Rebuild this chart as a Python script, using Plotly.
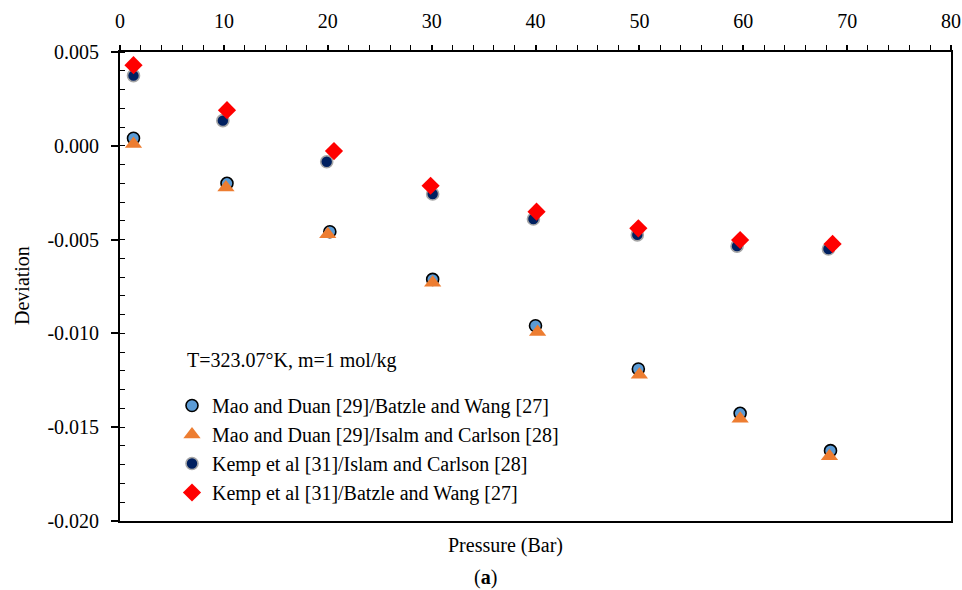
import plotly.graph_objects as go

# Data
p_md_bw = [1.3, 10.3, 20.2, 30.1, 40.0, 49.9, 59.7, 68.4]
d_md_bw = [0.0004, -0.0020, -0.00458, -0.00712, -0.00959, -0.0119, -0.01426, -0.01625]

p_md_ic = [1.3, 10.2, 20.0, 30.1, 40.2, 50.0, 59.7, 68.3]
d_md_ic = [0.0001, -0.00222, -0.00472, -0.00730, -0.00993, -0.01220, -0.01455, -0.01655]

p_kp_ic = [1.3, 9.9, 19.9, 30.1, 39.8, 49.8, 59.4, 68.2]
d_kp_ic = [0.00374, 0.00134, -0.00085, -0.00257, -0.0039, -0.00475, -0.00535, -0.00550]

p_kp_bw = [1.3, 10.3, 20.6, 29.9, 40.1, 49.9, 59.7, 68.6]
d_kp_bw = [0.0043, 0.0019, -0.00028, -0.00213, -0.00351, -0.0044, -0.00502, -0.00523]

names = [
    "Mao and Duan [29]/Batzle and Wang [27]",
    "Mao and Duan [29]/Isalm and Carlson [28]",
    "Kemp et al [31]/Islam and Carlson [28]",
    "Kemp et al [31]/Batzle and Wang [27]",
]

x_ticks = [0, 10, 20, 30, 40, 50, 60, 70, 80]
y_ticks = [0.005, 0.0, -0.005, -0.010, -0.015, -0.020]
y_tick_labels = ["0.005", "0.000", "-0.005", "-0.010", "-0.015", "-0.020"]

FONT = "Liberation Serif"
FS = 20
W, H = 962, 590
ML, MT = 120, 52
MR = W - 951
MB = H - 521
PW, PH = W - ML - MR, H - MT - MB


def px(xp):
    return (xp - ML) / PW


def py(yp):
    return 1 - (yp - MT) / PH


fig = go.Figure()
fig.add_trace(go.Scatter(x=p_md_bw, y=d_md_bw, mode="markers", name=names[0],
                         marker=dict(symbol="circle", size=12, color="#5B9BD5",
                                     line=dict(color="black", width=1.6))))
fig.add_trace(go.Scatter(x=p_md_ic, y=d_md_ic, mode="markers", name=names[1],
                         marker=dict(symbol="triangle-up", size=15, color="#ED7D31",
                                     line=dict(width=0))))
fig.add_trace(go.Scatter(x=p_kp_ic, y=d_kp_ic, mode="markers", name=names[2],
                         marker=dict(symbol="circle", size=12, color="#002060",
                                     line=dict(color="#A6A6A6", width=1.6))))
fig.add_trace(go.Scatter(x=p_kp_bw, y=d_kp_bw, mode="markers", name=names[3],
                         marker=dict(symbol="diamond", size=14, color="#FF0000",
                                     line=dict(width=0))))

fig.update_layout(
    width=W, height=H,
    margin=dict(l=ML, r=MR, t=MT, b=MB, autoexpand=False),
    paper_bgcolor="white", plot_bgcolor="white",
    font=dict(family=FONT, size=FS, color="black"),
    showlegend=True,
    legend=dict(x=px(172), y=py(386), xanchor="left", yanchor="top",
                bgcolor="rgba(0,0,0,0)", traceorder="normal",
                font=dict(family=FONT, size=20)),
    xaxis=dict(range=[0, 80], side="top", tickvals=x_ticks, ticks="outside", ticklen=5,
               tickwidth=1.5, tickcolor="black", showline=True, linecolor="black",
               linewidth=1.5, mirror=True, showgrid=False, zeroline=False,
               ticklabelstandoff=9, automargin=False,
               minor=dict(dtick=2, ticks="outside", ticklen=5, tickwidth=1, tickcolor="black")),
    yaxis=dict(range=[-0.020, 0.005], tickvals=y_ticks, ticktext=y_tick_labels,
               ticks="outside", ticklen=7, tickwidth=1.5, tickcolor="black",
               showline=True, linecolor="black", linewidth=1.8, mirror=True,
               showgrid=False, zeroline=False, ticklabelstandoff=8, automargin=False,
               minor=dict(dtick=0.001, ticks="inside", ticklen=5, tickwidth=1, tickcolor="black")),
    xaxis2=dict(range=[0, 80], overlaying="x", side="top", anchor="y", tickvals=x_ticks,
                ticks="inside", ticklen=6, tickwidth=1.5, tickcolor="black", automargin=False,
                showticklabels=False, showline=False, showgrid=False, zeroline=False),
    yaxis2=dict(range=[-0.020, 0.005], overlaying="y", side="left", anchor="x", tickvals=y_ticks,
                ticks="inside", ticklen=4, tickwidth=1.5, tickcolor="black", automargin=False,
                showticklabels=False, showline=False, showgrid=False, zeroline=False),
    annotations=[
        dict(text="T=323.07°K, m=1 mol/kg", xref="paper", yref="paper", x=px(185), y=py(360),
             xanchor="left", yanchor="middle", showarrow=False, font=dict(size=20)),
        dict(text="Deviation", xref="paper", yref="paper", x=px(22), y=py(286), textangle=-90,
             xanchor="center", yanchor="middle", showarrow=False, font=dict(size=20)),
        dict(text="Pressure (Bar)", xref="paper", yref="paper", x=px(505), y=py(545),
             xanchor="center", yanchor="middle", showarrow=False, font=dict(size=20)),
        dict(text="(<b>a</b>)", xref="paper", yref="paper", x=px(485), y=py(577),
             xanchor="center", yanchor="middle", showarrow=False, font=dict(size=20)),
    ],
)

fig.write_html("out.html", config={"displayModeBar": False},
               post_script="document.body.style.margin='0';document.body.style.overflow='hidden';")
